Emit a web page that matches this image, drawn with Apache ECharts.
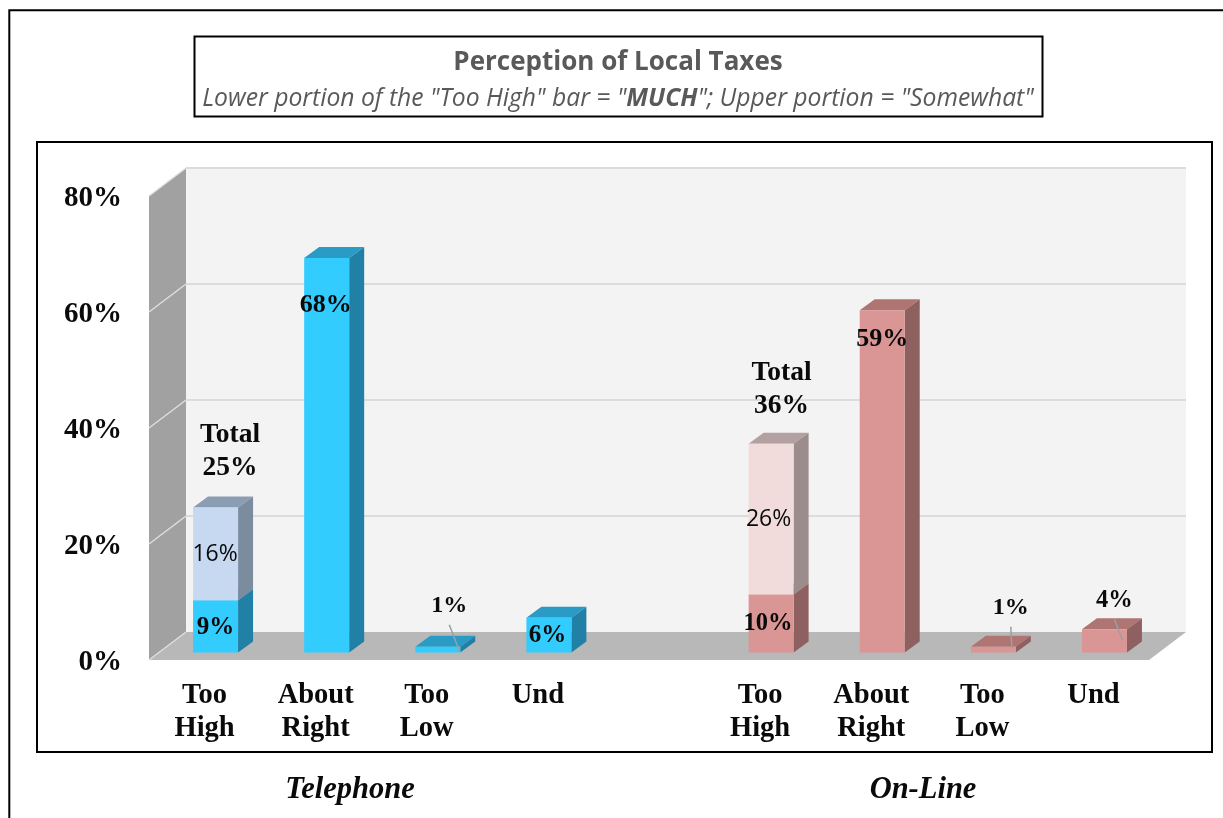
<!DOCTYPE html>
<html>
<head>
<meta charset="utf-8">
<title>Perception of Local Taxes</title>
<script src="https://cdn.jsdelivr.net/npm/echarts@6/dist/echarts.min.js"></script>
<style>html,body{margin:0;padding:0;background:#fff}#chart{width:1223px;height:818px}</style>
</head>
<body>
<div id="chart"></div>
<script>
// Survey answers, in percent. Index 4 of the category axis is the gap between the two modes.
const categories = ['Too\nHigh', 'About\nRight', 'Too\nLow', 'Und', '', 'Too\nHigh', 'About\nRight', 'Too\nLow', 'Und'];
const yTicks = [0, 20, 40, 60, 80];
const telephoneValues = [9, 68, 1, 6];
const telephoneSomewhat = [16];
const onlineValues = [10, 59, 1, 4];
const onlineSomewhat = [26];
const groupNames = ['Telephone', 'On-Line'];
const ONLINE_START = 5;

// Pseudo-3D projection of the chart box and of the bars standing inside it
const WALL_DX = 37, WALL_DY = -28;
const BAR_DX = 11, BAR_DY = -7.5;
const DEPTH_DX = 15, DEPTH_DY = -11;
const BAR_WIDTH = 0.405;

const SERIF = '"Liberation Serif", "Times New Roman", serif';
const SANS = '"Open Sans", "Noto Sans", sans-serif';
const boldLabel = size => `bold ${size}px ${SERIF}`;

const palettes = {
  blue: { front: '#33ccff', top: '#2a9bc4', side: '#2180a6' },
  paleBlue: { front: '#c6d9f1', top: '#8b9db3', side: '#7c8c9f' },
  rose: { front: '#d99694', top: '#ae7573', side: '#8f6060' },
  paleRose: { front: '#f2dcdb', top: '#b3a0a0', side: '#9c8c8c' }
};

// Label placement relative to the top-centre of a bar's front face
const telephonePlacement = [
  { dx: 0, dy: 27, font: boldLabel(25) },
  { dx: -1, dy: 47, font: boldLabel(26) },
  { dx: 11.5, dy: -41, font: boldLabel(24), leader: [11.5, -22, 21.5, 4] },
  { dx: -1.5, dy: 18, font: boldLabel(25) }
];
const onlinePlacement = [
  { dx: -3, dy: 29.5, font: boldLabel(24.5) },
  { dx: 0, dy: 29, font: boldLabel(26) },
  { dx: 17.5, dy: -39, font: boldLabel(24), leader: [17.5, -20, 18.5, 2] },
  { dx: 10, dy: -29, font: boldLabel(24.5), leader: [10, -10, 18, 11] }
];
const somewhatPlacement = {
  telephone: { dx: -0.5, dy: 47, font: `23px ${SANS}` },
  online: { dx: -2.5, dy: 76, font: `23px ${SANS}` }
};
const totalPlacement = { telephone: { dx: 14.5, dy: -56 }, online: { dx: 10.5, dy: -54 } };

// Back wall, side wall and floor of the chart box
function renderBox(params, api) {
  const c = params.coordSys;
  const l = c.x, r = c.x + c.width, b = c.y + c.height, t = c.y;
  const poly = (points, fill) => ({ type: 'polygon', shape: { points }, style: { fill } });
  const children = [
    poly([[l + WALL_DX, t + WALL_DY], [r + WALL_DX, t + WALL_DY], [r + WALL_DX, b + WALL_DY], [l + WALL_DX, b + WALL_DY]], '#f3f3f3'),
    poly([[l, t], [l + WALL_DX, t + WALL_DY], [l + WALL_DX, b + WALL_DY], [l, b]], '#a1a1a1'),
    poly([[l, b], [l + WALL_DX, b + WALL_DY], [r + WALL_DX, b + WALL_DY], [r, b]], '#b8b8b8')
  ];
  yTicks.forEach(v => {
    const y = api.coord([0, v])[1];
    if (v > 0) {
      children.push({
        type: 'line',
        shape: { x1: l + WALL_DX, y1: y + WALL_DY, x2: r + WALL_DX, y2: y + WALL_DY },
        style: { stroke: '#dcdcdc', lineWidth: 2 }
      });
    }
    children.push({
      type: 'line',
      shape: { x1: l, y1: y, x2: l + WALL_DX, y2: y + WALL_DY },
      style: { stroke: '#dedede', lineWidth: 1.5 }
    });
  });
  return { type: 'group', children };
}

// One bar segment: front, top and side faces, with its value label and optional leader
function renderSegment(palette, placements, totals) {
  return function (params, api) {
    const index = api.value(0);
    const base = api.coord([index, api.value(1)]);
    const tip = api.coord([index, api.value(2)]);
    const w = api.size([1, 0])[0] * BAR_WIDTH;
    const x0 = base[0] + BAR_DX - w / 2, x1 = x0 + w;
    const yb = base[1] + BAR_DY, yt = tip[1] + BAR_DY;
    const cx = (x0 + x1) / 2;
    const children = [
      { type: 'polygon', shape: { points: [[x0, yt], [x1, yt], [x1 + DEPTH_DX, yt + DEPTH_DY], [x0 + DEPTH_DX, yt + DEPTH_DY]] }, style: { fill: palette.top } },
      { type: 'polygon', shape: { points: [[x1, yb], [x1, yt], [x1 + DEPTH_DX, yt + DEPTH_DY], [x1 + DEPTH_DX, yb + DEPTH_DY]] }, style: { fill: palette.side } },
      { type: 'rect', shape: { x: x0, y: yt, width: w, height: yb - yt }, style: { fill: palette.front } }
    ];
    const place = placements[params.dataIndex];
    if (place.leader) {
      const [a, b, c, d] = place.leader;
      children.push({ type: 'line', shape: { x1: cx + a, y1: yt + b, x2: cx + c, y2: yt + d }, style: { stroke: '#9aa0a3', lineWidth: 1.5 } });
    }
    children.push({
      type: 'text',
      style: {
        text: (api.value(2) - api.value(1)) + '%',
        x: cx + place.dx, y: yt + place.dy,
        font: place.font, fill: '#0a0a0a', align: 'center', verticalAlign: 'middle'
      }
    });
    if (totals) {
      children.push({
        type: 'text',
        style: {
          text: 'Total\n' + api.value(2) + '%',
          x: cx + totals.dx, y: yt + totals.dy,
          font: boldLabel(27.5), lineHeight: 33, fill: '#0a0a0a', align: 'center', verticalAlign: 'middle'
        }
      });
    }
    return { type: 'group', children };
  };
}

const barSeries = (name, data, palette, placements, totals) => ({
  type: 'custom', name, data, renderItem: renderSegment(palette, placements, totals),
  clip: false, silent: true, z: 3, encode: { x: 0, y: [1, 2] }
});

const stack = (values, start) => values.map((v, i) => [start + i, 0, v]);
const upper = (lower, values, start) => values.map((v, i) => [start + i, lower[i], lower[i] + v]);

const chart = echarts.init(document.getElementById('chart'), null, { renderer: 'canvas' });
chart.setOption({
  animation: false,
  backgroundColor: '#ffffff',
  title: {
    text: 'Perception of Local Taxes',
    subtext: 'Lower portion of the "Too High" bar = "{b|MUCH}"; Upper portion = "Somewhat"',
    left: 618, top: 45, textAlign: 'center', padding: 0, itemGap: 3,
    textStyle: { fontFamily: SANS, fontWeight: 'bold', fontSize: 26, color: '#595959', lineHeight: 36 },
    subtextStyle: {
      fontFamily: SANS, fontStyle: 'italic', fontSize: 24.7, color: '#595959', lineHeight: 30,
      rich: { b: { fontFamily: SANS, fontStyle: 'italic', fontWeight: 'bold', fontSize: 24.7, color: '#595959' } }
    }
  },
  grid: { left: 149, top: 196, width: 1000, height: 464 },
  xAxis: {
    type: 'category', data: categories,
    axisLine: { show: false }, axisTick: { show: false },
    axisLabel: {
      interval: 0, margin: 19, color: '#0a0a0a', fontFamily: SERIF, fontWeight: 'bold',
      fontSize: 28.5, lineHeight: 33
    }
  },
  yAxis: {
    type: 'value', min: 0, max: 80, interval: 20,
    axisLine: { show: false }, axisTick: { show: false }, splitLine: { show: false },
    axisLabel: {
      formatter: '{tick|{value}%}', margin: 27,
      rich: { tick: { padding: [6, 0, 0, 0], color: '#0a0a0a', fontFamily: SERIF, fontWeight: 'bold', fontSize: 29 } }
    }
  },
  series: [
    { type: 'custom', name: 'box', data: [[0, 0]], renderItem: renderBox, clip: false, silent: true, z: 1 },
    barSeries('Telephone', stack(telephoneValues, 0), palettes.blue, telephonePlacement),
    barSeries('Telephone somewhat', upper(telephoneValues, telephoneSomewhat, 0), palettes.paleBlue, [somewhatPlacement.telephone], totalPlacement.telephone),
    barSeries('On-Line', stack(onlineValues, ONLINE_START), palettes.rose, onlinePlacement),
    barSeries('On-Line somewhat', upper(onlineValues, onlineSomewhat, ONLINE_START), palettes.paleRose, [somewhatPlacement.online], totalPlacement.online)
  ],
  graphic: [
    { type: 'rect', z: 0, silent: true, shape: { x: 9.3, y: 10.3, width: 1400, height: 1000 }, style: { fill: 'none', stroke: '#000', lineWidth: 2 } },
    { type: 'rect', z: 0, silent: true, shape: { x: 194.5, y: 36.5, width: 848, height: 80 }, style: { fill: 'none', stroke: '#000', lineWidth: 2 } },
    { type: 'rect', z: 0, silent: true, shape: { x: 37, y: 142, width: 1175, height: 610 }, style: { fill: 'none', stroke: '#000', lineWidth: 2 } },
    { type: 'text', silent: true, x: 350, y: 790, style: { text: groupNames[0], font: `italic bold 30.5px ${SERIF}`, fill: '#0a0a0a', align: 'center', verticalAlign: 'middle' } },
    { type: 'text', silent: true, x: 923, y: 790, style: { text: groupNames[1], font: `italic bold 30.5px ${SERIF}`, fill: '#0a0a0a', align: 'center', verticalAlign: 'middle' } }
  ]
});
</script>
</body>
</html>
